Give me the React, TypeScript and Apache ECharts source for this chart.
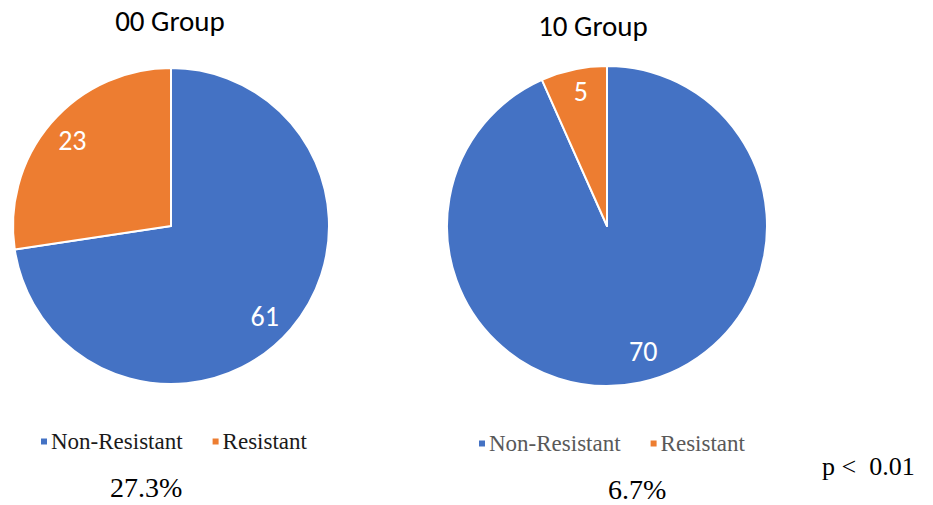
import React, { useEffect, useRef } from "react";
import * as echarts from "echarts";

const categories = ["Non-Resistant", "Resistant"];
const groupNames = ["00 Group", "10 Group"];
const group00Values = [61, 23];
const group10Values = [70, 5];
const rateLabels = ["27.3%", "6.7%"];
const pValueText = "p <  0.01";

const COLORS = ["#4472C4", "#ED7D31"];
const SANS = "Calibri, Carlito, 'Open Sans', 'Noto Sans', sans-serif";
const SERIF = "'Times New Roman', 'Liberation Serif', 'DejaVu Serif', serif";

function toData(values: number[]) {
  return categories.map((name, i) => ({ name, value: values[i], itemStyle: { color: COLORS[i] } }));
}

function pieSeries(
  values: number[],
  center: [number, number],
  radius: number,
  labelNudge: [number, number][]
) {
  return [
    {
      type: "pie",
      center,
      radius: [0, radius],
      startAngle: 90,
      clockwise: true,
      label: { show: false },
      labelLine: { show: false },
      itemStyle: { borderColor: "#ffffff", borderWidth: 2 },
      emphasis: { disabled: true },
      data: toData(values),
    },
    // label ring: transparent slices that place the value labels near the rim
    {
      type: "pie",
      center,
      radius: [radius * 0.66, radius],
      startAngle: 90,
      clockwise: true,
      silent: true,
      label: {
        show: true,
        position: "inside",
        formatter: "{c}",
        color: "#ffffff",
        fontFamily: SANS,
        fontSize: 28,
      },
      labelLine: { show: false },
      itemStyle: { color: "transparent", borderWidth: 0 },
      emphasis: { disabled: true },
      data: categories.map((name, i) => ({
        name,
        value: values[i],
        label: { offset: labelNudge[i] },
      })),
    },
  ];
}

export default function App() {
  const ref = useRef<HTMLDivElement>(null);

  useEffect(() => {
    if (!ref.current) return;
    const chart = echarts.init(ref.current, undefined, { renderer: "svg" });
    const legendBase = {
      data: categories,
      icon: "rect",
      itemWidth: 8,
      itemHeight: 8,
      itemGap: 28,
      selectedMode: false,
      textStyle: { fontFamily: SERIF, fontSize: 23, padding: [0, 0, 0, -2] },
    };
    chart.setOption({
      animation: false,
      backgroundColor: "#ffffff",
      color: COLORS,
      title: [
        {
          text: groupNames[0],
          left: 165,
          top: 1,
          textAlign: "center",
          textStyle: { fontFamily: SANS, fontSize: 29, fontWeight: "normal", color: "#000000" },
        },
        {
          text: groupNames[1],
          left: 588,
          top: 6,
          textAlign: "center",
          textStyle: { fontFamily: SANS, fontSize: 29, fontWeight: "normal", color: "#000000" },
        },
      ],
      legend: [
        { ...legendBase, left: 34, top: 425, textStyle: { ...legendBase.textStyle, color: "#1a1a1a" } },
        { ...legendBase, left: 472, top: 427, textStyle: { ...legendBase.textStyle, color: "#595959" } },
      ],
      graphic: [
        {
          type: "text",
          left: 110,
          top: 473,
          style: { text: rateLabels[0], font: `28px ${SERIF}`, fill: "#000000" },
        },
        {
          type: "text",
          left: 608,
          top: 475,
          style: { text: rateLabels[1], font: `28px ${SERIF}`, fill: "#000000" },
        },
        {
          type: "text",
          left: 822,
          top: 453,
          style: { text: pValueText, font: `26px ${SERIF}`, fill: "#000000" },
        },
      ],
      series: [
        ...pieSeries(group00Values, [171, 226], 158, [[-8, 3], [3, 2]]),
        ...pieSeries(group10Values, [607, 226], 160, [[8, -7], [2, -2]]),
      ],
    });
    return () => chart.dispose();
  }, []);

  return (
    <div
      ref={ref}
      style={{ position: "fixed", left: 0, top: 0, width: 933, height: 505, background: "#fff" }}
    />
  );
}
